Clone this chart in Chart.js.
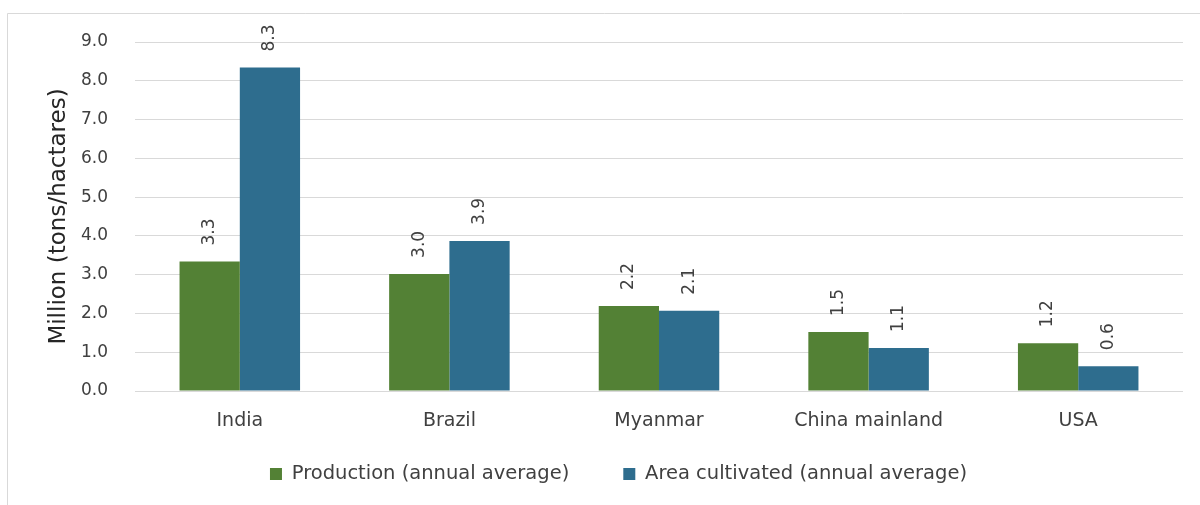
<!DOCTYPE html>
<html>
<head>
<meta charset="utf-8">
<script src="https://cdn.jsdelivr.net/npm/chart.js@4/dist/chart.umd.min.js"></script>
<style>
  html, body { margin: 0; padding: 0; background: #ffffff; }
  #wrap { width: 1200px; height: 505px; position: relative; }
</style>
</head>
<body>
<div id="wrap"><canvas id="chart" width="1200" height="505"></canvas></div>
<script>
// Top producers: average annual production vs. area cultivated
const countries = ['India', 'Brazil', 'Myanmar', 'China mainland', 'USA'];
const production = [3.34, 3.02, 2.19, 1.52, 1.23];
const areaCultivated = [8.34, 3.87, 2.07, 1.11, 0.64];
const yTicks = [0, 1, 2, 3, 4, 5, 6, 7, 8, 9];
const seriesNames = ['Production (annual average)', 'Area cultivated (annual average)'];
const yTitle = 'Million (tons/hactares)';

const FONT = '"DejaVu Sans", Verdana, sans-serif';
const TEXT = '#404040';

// thin frame around the chart
const framePlugin = {
  id: 'frame',
  beforeDraw(chart) {
    const ctx = chart.ctx;
    ctx.save();
    ctx.fillStyle = '#ffffff';
    ctx.fillRect(0, 0, chart.width, chart.height);
    ctx.strokeStyle = '#d9d9d9';
    ctx.lineWidth = 1;
    ctx.beginPath();
    ctx.moveTo(7.5, chart.height + 2);
    ctx.lineTo(7.5, 13.5);
    ctx.lineTo(chart.width + 2, 13.5);
    ctx.stroke();
    ctx.restore();
  }
};

// place the legend row: wide gap between entries, sitting just above the bottom edge
const legendPlacement = {
  id: 'legendPlacement',
  afterLayout(chart) {
    const lg = chart.legend;
    if (!lg) return;
    const h = 83.5;
    lg.left += 23;
    lg.right += 23;
    lg.top = 410.25;
    lg.bottom = lg.top + h;
    lg.height = h;
  }
};

// vertical value labels above each bar
const valueLabels = {
  id: 'valueLabels',
  afterDatasetsDraw(chart) {
    const ctx = chart.ctx;
    ctx.save();
    ctx.font = '17px ' + FONT;
    ctx.fillStyle = TEXT;
    ctx.textAlign = 'left';
    ctx.textBaseline = 'middle';
    chart.data.datasets.forEach((ds, i) => {
      chart.getDatasetMeta(i).data.forEach((bar, j) => {
        const v = ds.data[j];
        ctx.save();
        ctx.translate(bar.x, bar.y - 16);
        ctx.rotate(-Math.PI / 2);
        ctx.fillText(v.toFixed(1), 0, 0);
        ctx.restore();
      });
    });
    ctx.restore();
  }
};

new Chart(document.getElementById('chart'), {
  type: 'bar',
  data: {
    labels: countries,
    datasets: [
      { label: seriesNames[0], data: production, backgroundColor: '#538135', borderWidth: 0 },
      { label: seriesNames[1], data: areaCultivated, backgroundColor: '#2e6d8e', borderWidth: 0 }
    ]
  },
  options: {
    responsive: false,
    animation: false,
    devicePixelRatio: 1,
    layout: { padding: { left: 8, top: 42, right: 17, bottom: 39 } },
    datasets: { bar: { categoryPercentage: 0.575, barPercentage: 1.0 } },
    plugins: {
      legend: {
        position: 'bottom',
        maxHeight: 30,
        labels: {
          font: { family: FONT, size: 19.5 },
          color: TEXT,
          boxWidth: 12,
          boxHeight: 12,
          padding: 54
        }
      },
      tooltip: { enabled: false }
    },
    scales: {
      x: {
        afterFit(scale) { scale.height = 45; },
        grid: { display: false },
        border: { display: false },
        ticks: { font: { family: FONT, size: 19 }, color: TEXT, padding: 11 }
      },
      y: {
        min: 0,
        max: 9,
        afterBuildTicks(scale) { scale.ticks = yTicks.map(v => ({ value: v })); },
        afterFit(scale) { scale.width = 127; },
        grid: { color: '#d9d9d9', drawTicks: false },
        border: { display: false },
        ticks: {
          font: { family: FONT, size: 17 },
          color: TEXT,
          padding: 27,
          callback: v => Number(v).toFixed(1)
        },
        title: {
          display: true,
          text: yTitle,
          font: { family: FONT, size: 23 },
          color: '#262626',
          padding: { top: 37, bottom: 0 }
        }
      }
    }
  },
  plugins: [framePlugin, legendPlacement, valueLabels]
});
</script>
</body>
</html>
